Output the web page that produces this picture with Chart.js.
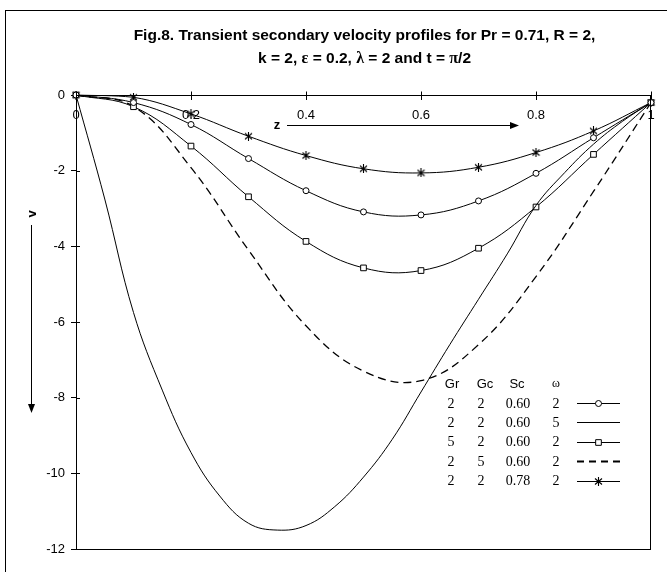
<!DOCTYPE html>
<html>
<head>
<meta charset="utf-8">
<script src="https://cdn.jsdelivr.net/npm/chart.js@4.4.1/dist/chart.umd.min.js"></script>
<style>
  html, body { margin: 0; padding: 0; background: #fff; }
  #wrap { position: relative; width: 667px; height: 572px; }
</style>
</head>
<body>
<div id="wrap"><canvas id="chart" width="667" height="572"></canvas></div>
<script>
// grid of z values used for the profiles
const zCoarse = [0, 0.1, 0.2, 0.3, 0.4, 0.5, 0.6, 0.7, 0.8, 0.9, 1];
const zFine = [0, 0.05, 0.1, 0.15, 0.2, 0.25, 0.3, 0.35, 0.4, 0.45, 0.5,
               0.55, 0.6, 0.65, 0.7, 0.75, 0.8, 0.85, 0.9, 0.95, 1];

// secondary velocity v(z) for each parameter set
const vBase   = [0, -0.2, -0.78, -1.68, -2.53, -3.09, -3.17, -2.80, -2.07, -1.13, -0.2];   // Gr 2, Gc 2, Sc 0.60, w 2
const vOmega5 = [0, -2.75, -5.75, -7.8, -9.45, -10.6, -11.32, -11.5, -11.38, -10.88, -10.1,
                 -9.1, -7.85, -6.6, -5.4, -4.2, -2.92, -2.05, -1.3, -0.7, -0.2];          // w 5
const vGr5    = [0, -0.31, -1.35, -2.69, -3.87, -4.57, -4.64, -4.05, -2.96, -1.57, -0.2];  // Gr 5
const vGc5    = [0, -0.3, -1.92, -4.1, -6.1, -7.3, -7.55, -6.6, -4.8, -2.55, -0.2];        // Gc 5
const vSc078  = [0, -0.06, -0.5, -1.09, -1.60, -1.95, -2.06, -1.91, -1.52, -0.95, -0.2];   // Sc 0.78

const xTicks = [0, 0.2, 0.4, 0.6, 0.8, 1];
const xTickLabels = ['0', '0.2', '0.4', '0.6', '0.8', '1'];
const yTicks = [0, -2, -4, -6, -8, -10, -12];

// title runs: [text, isGreek]
const titleLine1 = [['Fig.8. Transient secondary velocity profiles for Pr = 0.71, R = 2,', false]];
const titleLine2 = [['k = 2, ', false], ['\u03b5', true], [' = 0.2, ', false], ['\u03bb', true],
                    [' = 2 and t = ', false], ['\u03c0', true], ['/2', false]];
const legendHead = ['Gr', 'Gc', 'Sc', '\u03c9'];
const legendRows = [
  ['2', '2', '0.60', '2'],
  ['2', '2', '0.60', '5'],
  ['5', '2', '0.60', '2'],
  ['2', '5', '0.60', '2'],
  ['2', '2', '0.78', '2']
];

const SANS = 'Arial, "Liberation Sans", sans-serif';
const SERIF = '"Times New Roman", "Liberation Serif", serif';

Chart.defaults.font.family = SANS;
Chart.defaults.font.size = 13;
Chart.defaults.color = '#000';

// asterisk marker: an X with a vertical bar through it
function starMarker() {
  const c = document.createElement('canvas');
  c.width = 9; c.height = 9;
  const g = c.getContext('2d');
  g.strokeStyle = '#000';
  g.lineWidth = 1.1;
  g.beginPath();
  g.moveTo(1, 1.5); g.lineTo(8, 7.5);
  g.moveTo(8, 1.5); g.lineTo(1, 7.5);
  g.moveTo(4.5, 0); g.lineTo(4.5, 9);
  g.stroke();
  return c;
}
const star = starMarker();

const pts = (xs, ys) => xs.map((x, i) => ({ x: x, y: ys[i] }));

const series = [
  { data: pts(zCoarse, vBase), pointStyle: 'circle', pointRadius: 3 },
  { data: pts(zFine, vOmega5), pointRadius: 0 },
  { data: pts(zCoarse, vGr5), pointStyle: 'rect', pointRadius: 4 },
  { data: pts(zCoarse, vGc5), pointRadius: 0, borderDash: [8, 5], borderWidth: 1.3 },
  { data: pts(zCoarse, vSc078), pointStyle: star, pointRadius: 4 }
];

const datasets = series.map(s => Object.assign({
  borderColor: '#000',
  borderWidth: 1,
  pointBackgroundColor: '#fff',
  pointBorderColor: '#000',
  pointBorderWidth: 1,
  tension: 0.4,
  fill: false,
  clip: 8
}, s));

function arrow(ctx, x1, y1, x2, y2) {
  const ang = Math.atan2(y2 - y1, x2 - x1);
  ctx.beginPath();
  ctx.moveTo(x1, y1);
  ctx.lineTo(x2, y2);
  ctx.stroke();
  ctx.beginPath();
  ctx.moveTo(x2 + Math.cos(ang) * 2, y2 + Math.sin(ang) * 2);
  ctx.lineTo(x2 - Math.cos(ang) * 7 - Math.sin(ang) * 3.5, y2 - Math.sin(ang) * 7 + Math.cos(ang) * 3.5);
  ctx.lineTo(x2 - Math.cos(ang) * 7 + Math.sin(ang) * 3.5, y2 - Math.sin(ang) * 7 - Math.cos(ang) * 3.5);
  ctx.closePath();
  ctx.fill();
}

// centred line made of sans runs and serif greek letters
function richLine(ctx, runs, cx, y) {
  const fontOf = greek => greek ? 'bold 16px ' + SERIF : 'bold 15.5px ' + SANS;
  let w = 0;
  runs.forEach(([t, g]) => { ctx.font = fontOf(g); w += ctx.measureText(t).width; });
  let x = cx - w / 2;
  ctx.textAlign = 'left';
  runs.forEach(([t, g]) => {
    ctx.font = fontOf(g);
    ctx.fillText(t, x, y);
    x += ctx.measureText(t).width;
  });
  ctx.textAlign = 'center';
}

const decorations = {
  id: 'decorations',
  beforeDraw(chart) {
    const ctx = chart.ctx;
    ctx.save();
    ctx.fillStyle = '#fff';
    ctx.fillRect(0, 0, chart.width, chart.height);
    ctx.restore();
  },
  afterDraw(chart) {
    const { ctx, chartArea: a, scales: { x, y } } = chart;
    ctx.save();
    ctx.strokeStyle = '#000';
    ctx.fillStyle = '#000';
    ctx.lineWidth = 1;

    // outer frame and plot box
    ctx.strokeRect(5.5, 10.5, 720, 620);
    ctx.strokeRect(Math.round(a.left) + 0.5, Math.round(a.top) + 0.5,
                   Math.round(a.right - a.left) - 1, Math.round(a.bottom - a.top));

    // inner halves of the cross tick marks
    ctx.beginPath();
    const y0 = Math.round(y.getPixelForValue(0)) + 0.5;
    xTicks.forEach(v => {
      const px = Math.round(x.getPixelForValue(v)) + 0.5;
      ctx.moveTo(px, y0 - 4); ctx.lineTo(px, y0);
    });
    yTicks.forEach(v => {
      const py = Math.round(y.getPixelForValue(v)) + 0.5;
      ctx.moveTo(a.left, py); ctx.lineTo(a.left + 4, py);
    });
    ctx.stroke();

    // title
    ctx.textBaseline = 'alphabetic';
    const cx = (a.left + a.right) / 2 + 1;
    richLine(ctx, titleLine1, cx, 40);
    richLine(ctx, titleLine2, cx, 63);

    // axis names with direction arrows
    ctx.font = 'bold 13px ' + SANS;
    ctx.textAlign = 'center';
    ctx.textBaseline = 'middle';
    ctx.fillText('z', 277, 125);
    arrow(ctx, 287, 125.5, 517, 125.5);
    ctx.save();
    ctx.translate(32, 214);
    ctx.rotate(-Math.PI / 2);
    ctx.fillText('v', 0, 0);
    ctx.restore();
    arrow(ctx, 31.5, 225, 31.5, 411);

    // legend table
    const cols = [451, 481, 518, 556];
    ctx.font = '13px ' + SANS;
    ctx.fillText(legendHead[0], 452, 384);
    ctx.fillText(legendHead[1], 485, 384);
    ctx.fillText(legendHead[2], 517, 384);
    ctx.font = '12px ' + SERIF;
    ctx.fillText(legendHead[3], 556, 384);
    ctx.font = '14px ' + SERIF;
    legendRows.forEach((row, i) => {
      const ry = 404 + i * 19.4;
      row.forEach((t, j) => ctx.fillText(t, cols[j], ry));
      const ds = datasets[i];
      ctx.save();
      ctx.lineWidth = ds.borderDash ? 2 : 1;
      ctx.setLineDash(ds.borderDash ? [7, 5] : []);
      ctx.beginPath();
      ctx.moveTo(577, Math.round(ry) - 0.5);
      ctx.lineTo(620, Math.round(ry) - 0.5);
      ctx.stroke();
      ctx.restore();
      if (ds.pointRadius) {
        ctx.fillStyle = '#fff';
        Chart.helpers.drawPoint(ctx, {
          pointStyle: ds.pointStyle, radius: ds.pointRadius, rotation: 0, borderWidth: 1
        }, 598.5, Math.round(ry) - 0.5);
        ctx.fillStyle = '#000';
      }
    });
    ctx.restore();
  }
};

new Chart(document.getElementById('chart'), {
  type: 'line',
  data: { datasets: datasets },
  options: {
    responsive: false,
    animation: false,
    events: [],
    layout: { padding: { left: 0, top: 95, right: 16, bottom: 23 } },
    plugins: {
      legend: { display: false },
      title: { display: false },
      tooltip: { enabled: false }
    },
    scales: {
      x: {
        type: 'linear',
        position: { y: 0 },
        min: 0,
        max: 1,
        afterBuildTicks: s => { s.ticks = xTicks.map(v => ({ value: v })); },
        ticks: {
          padding: 9, maxRotation: 0, font: { size: 13 }, color: '#000',
          callback: (v, i) => xTickLabels[i]
        },
        grid: { drawOnChartArea: false, drawTicks: true, tickLength: 4, color: '#000' },
        border: { display: true, color: '#000', width: 1 }
      },
      y: {
        type: 'linear',
        min: -12,
        max: 0,
        afterBuildTicks: s => { s.ticks = yTicks.map(v => ({ value: v })); },
        afterFit: s => { s.width = 76; },
        ticks: { padding: 6, font: { size: 13 }, color: '#000' },
        grid: { drawOnChartArea: false, drawTicks: true, tickLength: 5, color: '#000' },
        border: { display: true, color: '#000', width: 1 }
      }
    }
  },
  plugins: [decorations]
});
</script>
</body>
</html>
